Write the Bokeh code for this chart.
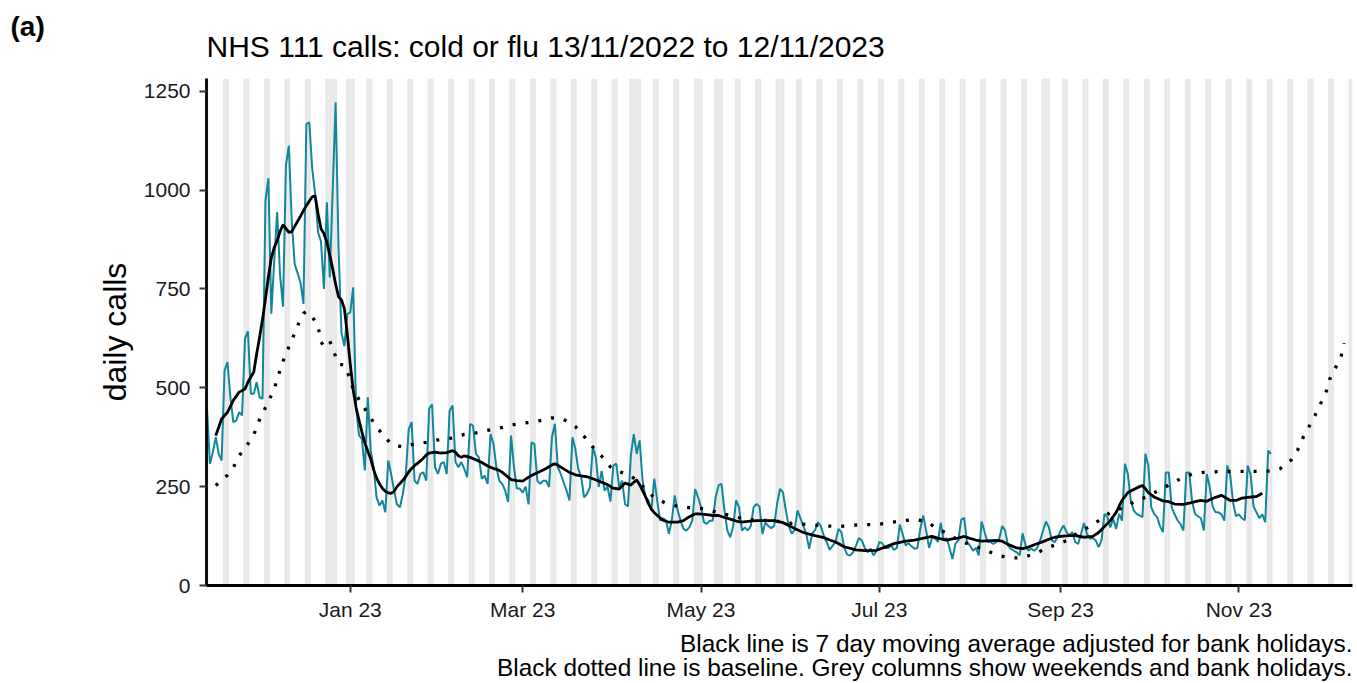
import pandas as pd
from bokeh.plotting import figure
from bokeh.layouts import column
from bokeh.models import Range1d, FixedTicker, Label
from bokeh.embed import file_html
from bokeh.resources import INLINE

# ---------------- data ----------------
START_DATE = "2022-11-13"

# daily NHS 111 calls (cold or flu), 13/11/2022 .. 12/11/2023
daily_calls = [
    447, 308, 337, 375, 333, 316, 543,
    565, 476, 413, 417, 438, 430, 624,
    643, 485, 485, 514, 476, 472, 973,
    1030, 687, 820, 944, 785, 705, 1062,
    1112, 920, 813, 790, 765, 712, 1167,
    1171, 1053, 990, 893, 870, 750, 969,
    779, 1000, 1222, 850, 640, 605, 687,
    690, 754, 450, 380, 370, 291, 476,
    341, 299, 223, 202, 215, 185, 316,
    282, 240, 205, 198, 232, 280, 395,
    413, 265, 257, 282, 286, 265, 447,
    458, 299, 282, 308, 312, 282, 442,
    455, 312, 299, 312, 295, 274, 409,
    404, 333, 324, 270, 278, 257, 383,
    358, 299, 265, 257, 240, 211, 379,
    300, 245, 245, 235, 250, 205, 362,
    358, 265, 257, 265, 265, 249, 375,
    409, 299, 282, 261, 240, 215, 375,
    345, 295, 274, 223, 232, 249, 350,
    324, 249, 290, 240, 250, 212, 303,
    308, 249, 265, 206, 200, 329, 383,
    333, 367, 265, 223, 215, 190, 270,
    215, 164, 170, 165, 131, 165, 228,
    190, 164, 143, 139, 147, 164, 244,
    223, 198, 160, 156, 164, 164, 223,
    253, 257, 190, 139, 122, 150, 215,
    198, 139, 147, 139, 150, 198, 206,
    200, 130, 160, 150, 145, 150, 206,
    244, 236, 190, 150, 131, 140, 190,
    170, 150, 130, 93, 131, 140, 160,
    150, 125, 110, 90, 100, 110, 143,
    135, 95, 78, 76, 84, 101, 120,
    114, 95, 84, 93, 76, 87, 110,
    107, 95, 95, 101, 90, 95, 154,
    129, 101, 107, 99, 93, 95, 143,
    177, 139, 95, 120, 120, 110, 158,
    114, 120, 95, 67, 105, 114, 166,
    171, 110, 101, 88, 95, 76, 162,
    135, 110, 110, 105, 110, 118, 150,
    140, 101, 93, 88, 84, 76, 132,
    101, 88, 93, 88, 95, 114, 139,
    162, 147, 114, 110, 122, 139, 152,
    135, 126, 135, 110, 105, 131, 158,
    131, 118, 120, 114, 97, 114, 181,
    173, 147, 169, 143, 181, 164, 308,
    282, 215, 190, 181, 177, 173, 333,
    303, 198, 181, 173, 150, 135, 286,
    286, 198, 180, 165, 155, 139, 286,
    286, 211, 181, 175, 170, 139, 282,
    249, 200, 185, 185, 180, 164, 303,
    280, 210, 175, 180, 170, 165, 303,
    280, 200, 185, 170, 180, 160, 341,
    333,
]

# 7 day moving average (day offset from start, value)
ma_day = [3, 5, 7, 9, 11, 13, 14, 16, 17, 18, 19, 20, 21, 22, 23, 24, 25, 26, 27, 28,
          29, 30, 31, 32, 33, 34, 35, 36, 37, 38, 39, 40, 41, 42, 43, 44, 45, 46, 47, 48,
          49, 50, 51, 52, 53, 54, 55, 56, 57, 58, 59, 60, 61, 62, 63, 64, 65, 66, 67, 68,
          69, 70, 71, 72, 73, 74, 75, 76, 78, 80, 82, 84, 85, 86, 87, 88, 90, 92, 94, 96,
          98, 100, 101, 103, 104, 106, 108, 110, 111, 113, 115, 116, 118, 119, 120, 122, 124, 126, 128, 130,
          132, 135, 137, 139, 141, 143, 145, 146, 147, 148, 149, 150, 151, 152, 153, 155, 156, 158, 161, 163,
          165, 167, 168, 171, 173, 175, 177, 179, 181, 183, 185, 188, 194, 197, 199, 201, 204, 206, 208, 211,
          213, 215, 218, 222, 225, 229, 232, 235, 239, 242, 246, 248, 250, 253, 255, 257, 259, 261, 263, 265,
          270, 272, 274, 277, 279, 281, 283, 286, 288, 290, 292, 295, 297, 300, 303, 305, 307, 309, 311, 313,
          315, 317, 319, 320, 321, 322, 324, 327, 329, 331, 334, 336, 338, 340, 342, 343, 345, 347, 348, 350,
          352, 354, 356, 359, 361]
ma_calls = [379, 421, 438, 468, 489, 497, 514, 540, 586, 628, 673, 725, 780, 828, 855, 872, 895, 912, 903, 893,
            895, 908, 921, 934, 948, 961, 972, 983, 985, 940, 902, 890, 868, 836, 800, 762, 730, 722, 700, 635,
            560, 495, 450, 418, 388, 360, 340, 320, 293, 272, 257, 246, 238, 234, 233, 238, 250, 258, 266, 276,
            287, 296, 303, 309, 315, 322, 330, 335, 337, 335, 336, 341, 337, 328, 324, 328, 324, 318, 311, 302,
            296, 291, 286, 274, 268, 265, 264, 274, 278, 285, 292, 296, 305, 308, 304, 295, 286, 280, 277, 275,
            270, 261, 255, 246, 244, 259, 254, 261, 267, 255, 240, 225, 207, 193, 184, 171, 165, 160, 160, 164,
            174, 181, 181, 179, 177, 177, 172, 168, 163, 160, 162, 164, 164, 159, 152, 144, 134, 130, 126, 121,
            115, 110, 98, 90, 88, 89, 97, 106, 112, 115, 121, 124, 120, 115, 118, 120, 124, 119, 115, 112,
            114, 112, 104, 95, 93, 97, 103, 111, 117, 122, 124, 126, 126, 122, 124, 134, 149, 164, 185, 215,
            235, 243, 250, 253, 245, 235, 224, 214, 212, 206, 205, 208, 212, 215, 213, 217, 223, 228, 224, 215,
            215, 221, 223, 225, 233]

# baseline (day offset from start, value)
baseline_day = [3, 7, 9, 11, 14, 16, 18, 20, 22, 23, 25, 26, 27, 29, 31, 33, 34, 36, 38, 39,
                40, 42, 43, 45, 47, 49, 50, 52, 55, 57, 60, 63, 67, 71, 75, 79, 84, 88, 92, 97,
                101, 105, 110, 114, 118, 122, 126, 129, 132, 135, 138, 141, 145, 150, 153, 157, 161, 166, 170, 175,
                181, 185, 190, 194, 198, 202, 207, 211, 216, 220, 225, 229, 233, 237, 242, 246, 250, 254, 257, 262,
                266, 270, 274, 278, 283, 287, 291, 295, 298, 302, 306, 309, 314, 317, 321, 325, 329, 333, 337, 341,
                346, 363, 367, 371, 373, 375, 377, 379, 381, 383, 384, 386, 388, 389]
baseline_calls = [253, 279, 298, 328, 358, 381, 420, 450, 481, 497, 545, 567, 586, 620, 657, 688, 693, 680, 655, 616,
                  605, 618, 598, 560, 557, 522, 497, 470, 435, 412, 382, 358, 350, 358, 362, 368, 373, 382, 386, 394,
                  400, 407, 412, 417, 424, 420, 402, 377, 350, 327, 300, 288, 278, 244, 222, 208, 200, 196, 194, 184,
                  173, 166, 165, 164, 158, 156, 153, 151, 149, 152, 154, 154, 158, 163, 167, 162, 143, 129, 114, 101,
                  90, 78, 70, 70, 79, 94, 105, 116, 135, 149, 169, 185, 198, 211, 223, 238, 254, 270, 282, 286,
                  288, 289, 295, 318, 341, 375, 402, 430, 461, 493, 521, 550, 581, 613]

bank_holidays = ["2022-12-26", "2022-12-27", "2023-01-02", "2023-04-07", "2023-04-10",
                 "2023-05-01", "2023-05-08", "2023-05-29", "2023-08-28"]

x_tick_dates = ["2023-01-01", "2023-03-01", "2023-05-01", "2023-07-01", "2023-09-01", "2023-11-01"]
x_tick_labels = ["Jan 23", "Mar 23", "May 23", "Jul 23", "Sep 23", "Nov 23"]
y_ticks = [0, 250, 500, 750, 1000, 1250]

panel_tag = "(a)"
title_text = "NHS 111 calls: cold or flu 13/11/2022 to 12/11/2023"
caption_1 = "Black line is 7 day moving average adjusted for bank holidays."
caption_2 = "Black dotted line is baseline. Grey columns show weekends and bank holidays."

# ---------------- helpers ----------------
DAY = 86400000.0
EPOCH = pd.Timestamp("1970-01-01")


def ms(ts):
    return (pd.Timestamp(ts) - EPOCH) / pd.Timedelta(milliseconds=1)


t0 = ms(START_DATE)
dates_ms = [t0 + i * DAY for i in range(len(daily_calls))]
ma_ms = [t0 + d * DAY for d in ma_day]
base_ms = [t0 + d * DAY for d in baseline_day]

all_days = pd.date_range("2022-11-12", "2023-12-10", freq="D")
grey_ms = [ms(d) for d in all_days
           if d.dayofweek >= 5 or d.strftime("%Y-%m-%d") in bank_holidays]

Y_MAX = 1282
FONT = "Liberation Sans"
W = 1357
HEAD_H = 78
MAIN_H = 545
FOOT_H = 60


def text_strip(height, y_top):
    """A bare figure used only to hold text; y runs downward in page pixels."""
    f = figure(width=W, height=height, output_backend="svg", toolbar_location=None,
               x_range=Range1d(0, W), y_range=Range1d(y_top + height, y_top),
               x_axis_location=None, y_axis_location=None, title_location=None,
               min_border=0, min_border_left=0, min_border_right=0,
               min_border_top=0, min_border_bottom=0, frame_align=False)
    f.outline_line_color = None
    f.grid.visible = False
    f.background_fill_color = "white"
    f.border_fill_color = "white"
    return f


# ---------------- header ----------------
head = text_strip(HEAD_H, 0)
head.add_layout(Label(x=10, y=26, text=panel_tag, text_font=FONT, text_font_size="28px",
                      text_font_style="bold", text_color="black", text_baseline="alphabetic"))
head.add_layout(Label(x=206, y=46, text=title_text, text_font=FONT, text_font_size="30px",
                      text_color="black", text_baseline="alphabetic"))

# ---------------- main chart ----------------
p = figure(width=W, height=MAIN_H, x_axis_type="datetime",
           output_backend="svg", toolbar_location=None, title_location=None,
           x_range=Range1d(t0 - 0.17 * DAY, t0 + 391.85 * DAY),
           y_range=Range1d(0, Y_MAX),
           min_border_left=206, min_border_right=5,
           min_border_top=0, min_border_bottom=38, frame_align=False)
p.outline_line_color = None
p.xgrid.visible = False
p.ygrid.visible = False
p.background_fill_color = "white"
p.border_fill_color = "white"

# grey weekend / bank holiday columns
p.vbar(x=grey_ms, width=DAY, bottom=0, top=Y_MAX,
       fill_color="#E8E8E8", line_color=None)

# daily calls
p.line(dates_ms, daily_calls, line_color="#12879B", line_width=2)
# moving average
p.line(ma_ms, ma_calls, line_color="black", line_width=2.8)
# baseline (dotted)
p.line(base_ms, baseline_calls, line_color="black", line_width=3.3,
       line_dash="3 10")

# axes
for ax in (p.xaxis[0], p.yaxis[0]):
    ax.axis_line_width = 2.8
    ax.axis_line_color = "black"
    ax.major_tick_line_width = 2
    ax.major_tick_line_color = "#333333"
    ax.major_tick_out = 7
    ax.major_tick_in = 0
    ax.minor_tick_line_color = None
    ax.major_label_text_font = FONT
    ax.major_label_text_font_size = "21px"
    ax.major_label_text_color = "#1a1a1a"

p.xaxis[0].ticker = FixedTicker(ticks=[ms(d) for d in x_tick_dates])
p.xaxis[0].major_label_overrides = {ms(d): lab for d, lab in zip(x_tick_dates, x_tick_labels)}
p.xaxis[0].major_label_standoff = 5

p.yaxis[0].ticker = FixedTicker(ticks=y_ticks)
p.yaxis[0].major_label_standoff = 9
p.yaxis[0].axis_label = "daily calls"
p.yaxis[0].axis_label_text_font = FONT
p.yaxis[0].axis_label_text_font_size = "32px"
p.yaxis[0].axis_label_text_font_style = "normal"
p.yaxis[0].axis_label_text_color = "black"
p.yaxis[0].axis_label_standoff = 8

# ---------------- footer ----------------
foot = text_strip(FOOT_H, HEAD_H + MAIN_H)
foot.add_layout(Label(x=1352, y=643, text=caption_1, text_font=FONT, text_font_size="24.4px",
                      text_color="black", text_align="right", text_baseline="alphabetic"))
foot.add_layout(Label(x=1352, y=667, text=caption_2, text_font=FONT, text_font_size="24.4px",
                      text_color="black", text_align="right", text_baseline="alphabetic"))

layout = column(head, p, foot, spacing=0)
open("out.html", "w").write(file_html(layout, INLINE))
